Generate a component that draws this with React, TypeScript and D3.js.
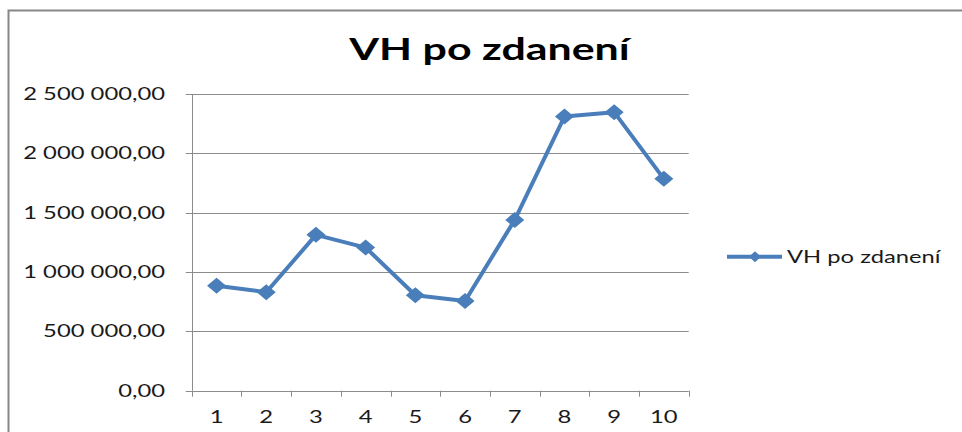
import { useRef, useEffect } from "react";
import * as d3 from "d3";

const title = "VH po zdanení";
const seriesName = "VH po zdanení";
const categories = ["1", "2", "3", "4", "5", "6", "7", "8", "9", "10"];
const values = [885000, 830000, 1313000, 1206000, 804000, 756000, 1439000, 2310000, 2347000, 1785000];
const yTicks = [0, 500000, 1000000, 1500000, 2000000, 2500000];

const W = 962;
const H = 432;
const STRETCH = 1.4;
const BLUE = "#4a7ebb";
const GRID = "#8c8c8c";
const FONT = "Lato, 'Open Sans', sans-serif";
const LABEL = "#1a1a1a";

const fmt = d3
  .formatLocale({ decimal: ",", thousands: "\u00a0", grouping: [3], currency: ["", ""] })
  .format(",.2f");

const diamond = (w: number, h: number) => `M0,${-h}L${w},0L0,${h}L${-w},0Z`;

export default function App() {
  const ref = useRef<SVGSVGElement>(null);

  useEffect(() => {
    const svg = d3.select(ref.current);
    svg.selectAll("*").remove();

    const plot = { left: 191.7, right: 688.7, top: 94, bottom: 390.7 };

    const x = d3.scaleBand().domain(categories).range([plot.left, plot.right]);
    const y = d3.scaleLinear().domain([0, 2500000]).range([plot.bottom, plot.top]);

    svg.append("rect").attr("width", W).attr("height", H).attr("fill", "#fff");

    // outer chart border (runs off the right and bottom edges)
    svg.append("rect")
      .attr("x", 8.5)
      .attr("y", 10.5)
      .attr("width", W + 20)
      .attr("height", H + 20)
      .attr("fill", "none")
      .attr("stroke", "#878787")
      .attr("stroke-width", 2);

    svg.append("text")
      .attr("transform", `translate(489.5,60) scale(1.43,1)`)
      .attr("text-anchor", "middle")
      .attr("font-family", FONT)
      .attr("font-weight", "bold")
      .attr("font-size", 30)
      .attr("fill", "#000")
      .text(title);

    // gridlines + y ticks
    const g = svg.append("g");
    yTicks.forEach((t) => {
      g.append("line")
        .attr("x1", plot.left - 6)
        .attr("x2", plot.right)
        .attr("y1", Math.round(y(t)) + 0.5)
        .attr("y2", Math.round(y(t)) + 0.5)
        .attr("stroke", GRID)
        .attr("stroke-width", 1);
      g.append("text")
        .attr("transform", `translate(165,${y(t) + 6}) scale(${STRETCH},1)`)
        .attr("text-anchor", "end")
        .attr("font-family", FONT)
        .attr("font-size", 17)
        .attr("fill", LABEL)
        .text(fmt(t));
    });

    // y axis line
    g.append("line")
      .attr("x1", Math.round(plot.left) + 0.5)
      .attr("x2", Math.round(plot.left) + 0.5)
      .attr("y1", plot.top)
      .attr("y2", plot.bottom)
      .attr("stroke", GRID);

    // x ticks at band edges
    const edges = categories.map((c) => x(c) as number).concat([plot.right]);
    edges.forEach((e) => {
      g.append("line")
        .attr("x1", Math.round(e) + 0.5)
        .attr("x2", Math.round(e) + 0.5)
        .attr("y1", plot.bottom)
        .attr("y2", plot.bottom + 6)
        .attr("stroke", GRID);
    });

    categories.forEach((c) => {
      g.append("text")
        .attr("transform", `translate(${(x(c) as number) + x.bandwidth() / 2},423) scale(${STRETCH},1)`)
        .attr("text-anchor", "middle")
        .attr("font-family", FONT)
        .attr("font-size", 17)
        .attr("fill", LABEL)
        .text(c);
    });

    const cx = (i: number) => (x(categories[i]) as number) + x.bandwidth() / 2;

    const line = d3.line<number>()
      .x((_, i) => cx(i))
      .y((d) => y(d));

    svg.append("path")
      .datum(values)
      .attr("fill", "none")
      .attr("stroke", BLUE)
      .attr("stroke-width", 4)
      .attr("stroke-linejoin", "round")
      .attr("d", line);

    svg.append("g")
      .selectAll("path")
      .data(values)
      .join("path")
      .attr("transform", (d, i) => `translate(${cx(i)},${y(d)})`)
      .attr("d", diamond(9.5, 8))
      .attr("fill", BLUE);

    // legend
    const legend = svg.append("g").attr("transform", "translate(727,256.7)");
    legend.append("line")
      .attr("x1", 0)
      .attr("x2", 55)
      .attr("stroke", BLUE)
      .attr("stroke-width", 4);
    legend.append("path")
      .attr("transform", "translate(28,0)")
      .attr("d", diamond(6, 5.5))
      .attr("fill", BLUE);
    legend.append("text")
      .attr("transform", `translate(60,6) scale(1.32,1)`)
      .attr("font-family", FONT)
      .attr("font-size", 18)
      .attr("fill", LABEL)
      .text(seriesName);
  }, []);

  return (
    <svg
      ref={ref}
      width={W}
      height={H}
      style={{ position: "absolute", left: 0, top: 0, display: "block" }}
    />
  );
}
